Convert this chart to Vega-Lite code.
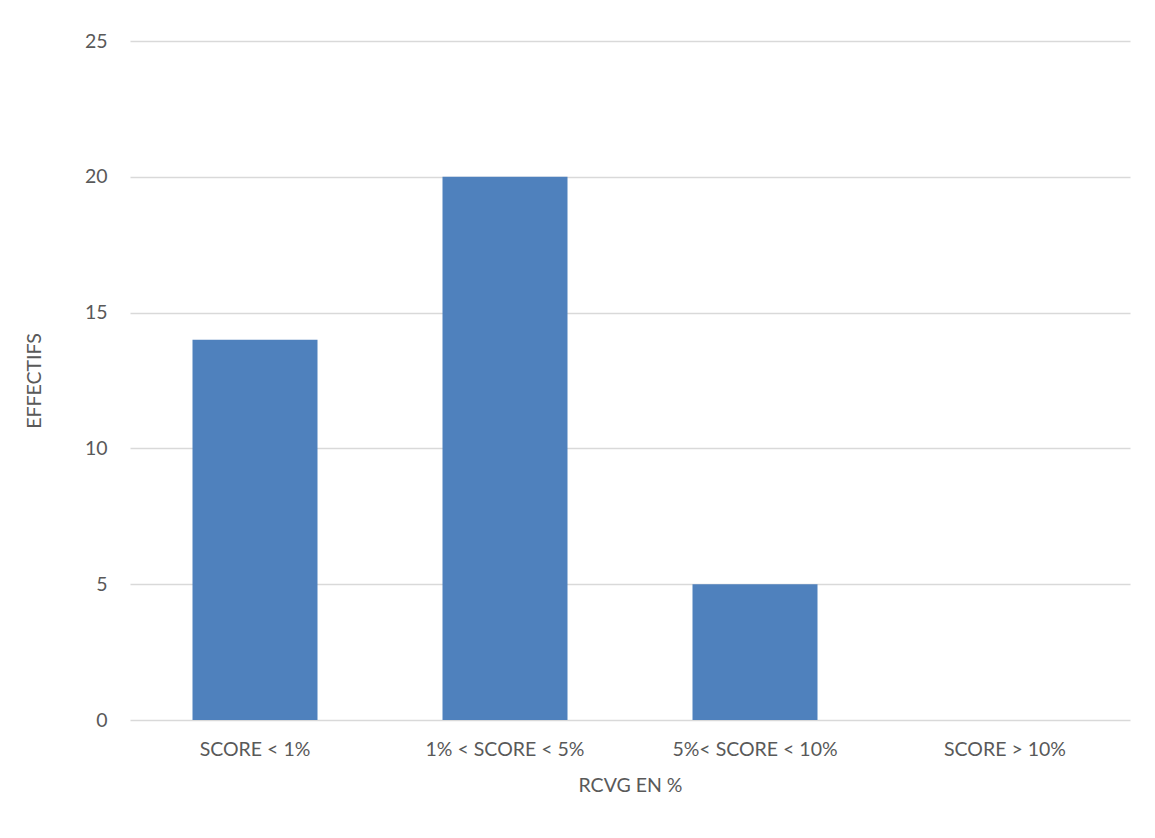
{
  "$schema": "https://vega.github.io/schema/vega-lite/v6.json",
  "autosize": "none",
  "width": 1000,
  "height": 679,
  "padding": {"left": 130, "top": 41, "right": 25, "bottom": 118},
  "background": "white",
  "data": {
    "values": [
      {"categorie": "SCORE < 1%", "effectifs": 14},
      {"categorie": "1% < SCORE < 5%", "effectifs": 20},
      {"categorie": "5%< SCORE < 10%", "effectifs": 5},
      {"categorie": "SCORE > 10%", "effectifs": 0}
    ]
  },
  "mark": {"type": "bar", "color": "#4F81BD"},
  "encoding": {
    "x": {
      "field": "categorie",
      "type": "nominal",
      "sort": null,
      "scale": {"paddingInner": 0.5, "paddingOuter": 0.25},
      "axis": {
        "title": "RCVG EN %",
        "labelAngle": 0,
        "ticks": false,
        "domain": false,
        "labelPadding": 20,
        "titlePadding": 18
      }
    },
    "y": {
      "field": "effectifs",
      "type": "quantitative",
      "scale": {"domain": [0, 25]},
      "axis": {
        "title": "EFFECTIFS",
        "values": [0, 5, 10, 15, 20, 25],
        "ticks": false,
        "domain": false,
        "labelPadding": 23,
        "titlePadding": 40,
        "gridColor": "#D9D9D9",
        "gridWidth": 1.3
      }
    }
  },
  "config": {
    "view": {"stroke": null},
    "font": "Lato",
    "axis": {
      "labelFont": "Lato",
      "titleFont": "Lato",
      "labelFontSize": 19.5,
      "titleFontSize": 19.5,
      "labelColor": "#595959",
      "titleColor": "#595959",
      "titleFontWeight": "normal"
    }
  }
}
